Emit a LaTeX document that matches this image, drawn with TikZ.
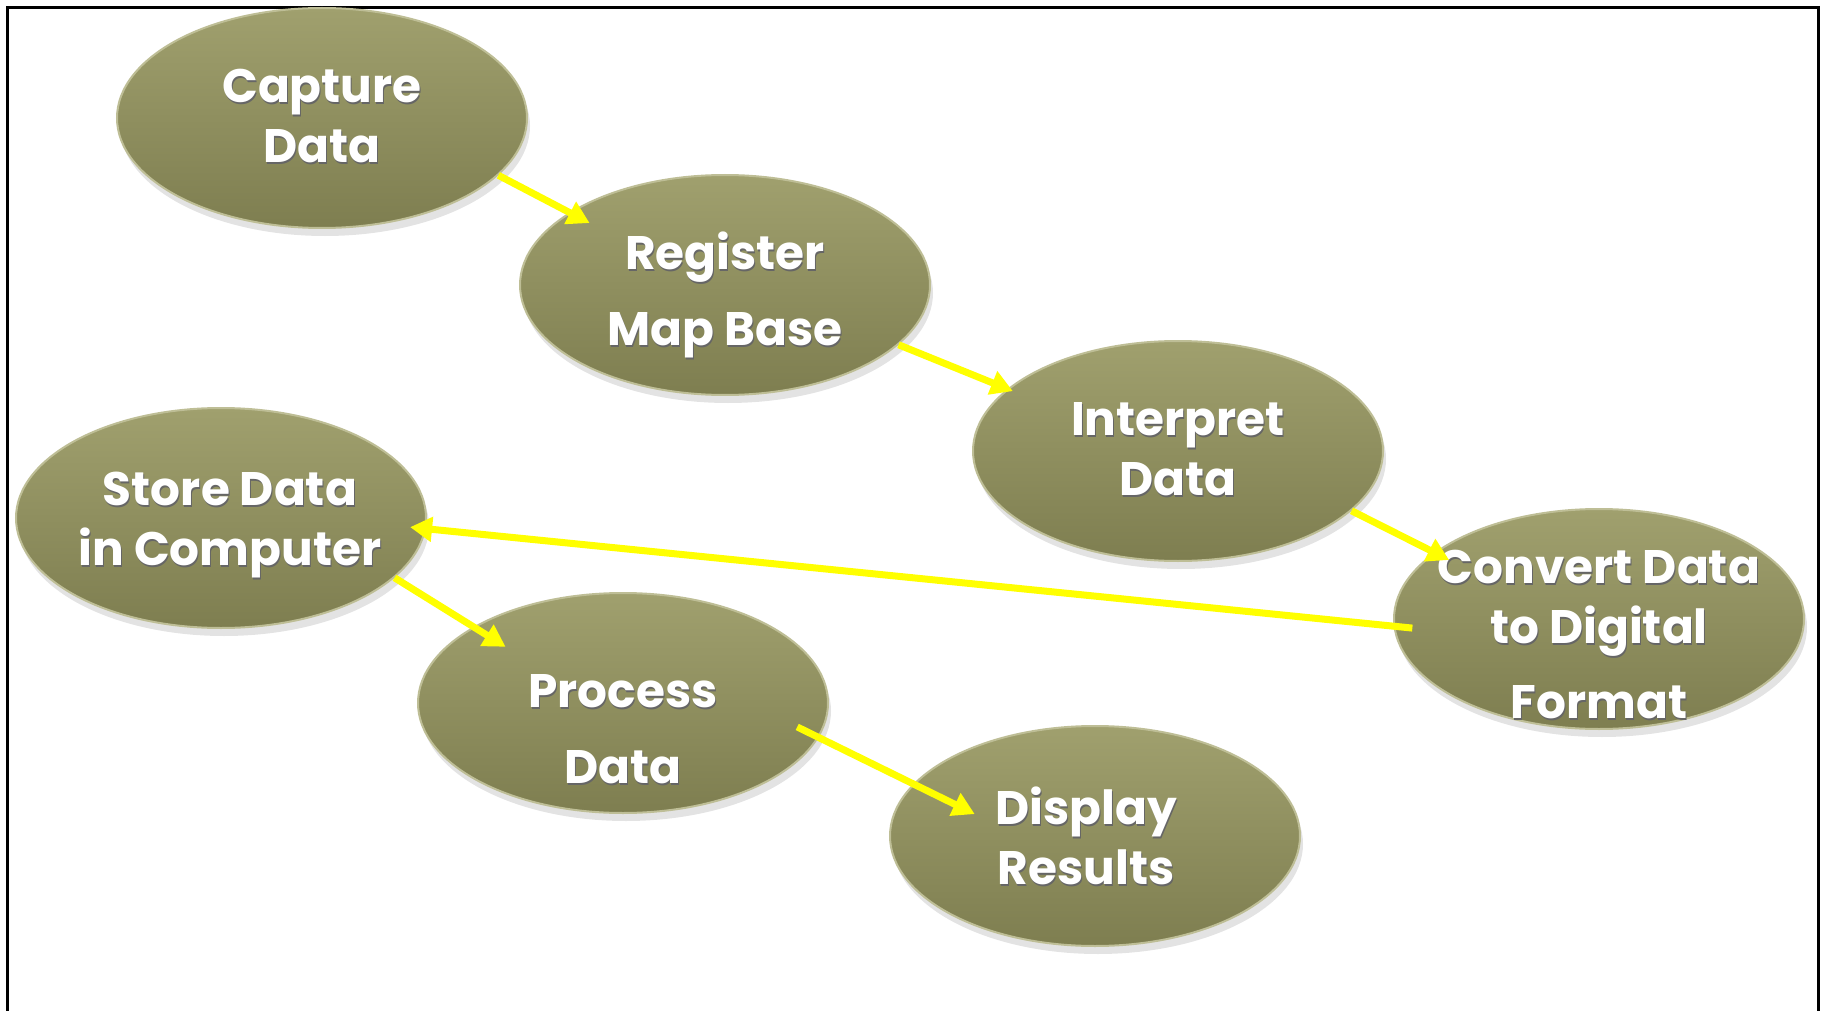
\documentclass[tikz,border=0pt]{standalone}
\usepackage{fontspec}
\newfontfamily\nodefont{Poppins}
\usetikzlibrary{shapes.geometric,arrows.meta,shadows}
\definecolor{oliveTop}{RGB}{160,160,110}
\definecolor{oliveBot}{RGB}{126,126,80}
\definecolor{oliveRim}{RGB}{190,190,150}
\definecolor{arrowYellow}{RGB}{255,255,0}
\newcommand{\elltext}[3]{\raisebox{#1}[0pt][0pt]{\makebox[0pt]{\kern#2\color{black!60}\raisebox{-1pt}{\kern1pt\begin{tabular}{@{}c@{}}#3\end{tabular}}}\makebox[0pt]{\kern#2\begin{tabular}{@{}c@{}}#3\end{tabular}}}}
\tikzset{
  ell/.style={ellipse, minimum width=205pt, minimum height=110pt, inner sep=0pt,
    top color=oliveTop, bottom color=oliveBot, draw=oliveRim, line width=1pt,
    drop shadow={opacity=0.22, shadow xshift=1.5pt, shadow yshift=-4pt},
    text=white, font=\nodefont\bfseries\fontsize{23.5}{30}\selectfont},
  conn/.style={draw=arrowYellow, line width=3.5pt, -{Triangle[length=11pt,width=12pt]}},
  frame/.style={draw=black, line width=1.5pt}
}
\begin{document}
\begin{tikzpicture}[x=0.5pt,y=-0.5pt]
\useasboundingbox (0,0) rectangle (1822,1011);
\draw[frame] (7.5,1011) -- (7.5,7.5) -- (1818.5,7.5) -- (1818.5,1011);

\node[ell] (cap)   at (322,118)  {\elltext{-7.4pt}{0pt}{Capture\\Data}};
\node[ell] (reg)   at (725,285)  {\elltext{-11.4pt}{0pt}{Register\\[8pt]Map Base}};
\node[ell] (int)   at (1178,451) {\elltext{-7.7pt}{0pt}{Interpret\\Data}};
\node[ell] (conv)  at (1599,619) {\elltext{-16.4pt}{0pt}{Convert Data\\to Digital\\[7.5pt]Format}};
\node[ell] (store) at (221,518)  {\elltext{-8.9pt}{9pt}{Store Data\\in Computer}};
\node[ell] (proc)  at (623,703)  {\elltext{-21.4pt}{0pt}{Process\\[8pt]Data}};
\node[ell] (disp)  at (1095,836) {\elltext{-9.7pt}{-9pt}{Display\\Results}};

\draw[conn, shorten >=-11.5pt] (cap.-18.4) -- (reg.155.5);
\draw[conn, shorten >=-3pt] (reg.-19.2) -- (int.160.6);
\draw[conn, shorten >=-8.4pt] (int.-19.6) -- (conv.158.7);
\draw[conn, shorten <=-9.5pt, shorten >=-8pt] (conv.182.3) -- (store.-3.55);
\draw[conn, shorten >=-19pt] (store.-19.3) -- (proc.153);
\draw[conn, shorten <=-12pt, shorten >=-34.3pt] (proc.-10.8) -- (disp.164.1);
\end{tikzpicture}
\end{document}
